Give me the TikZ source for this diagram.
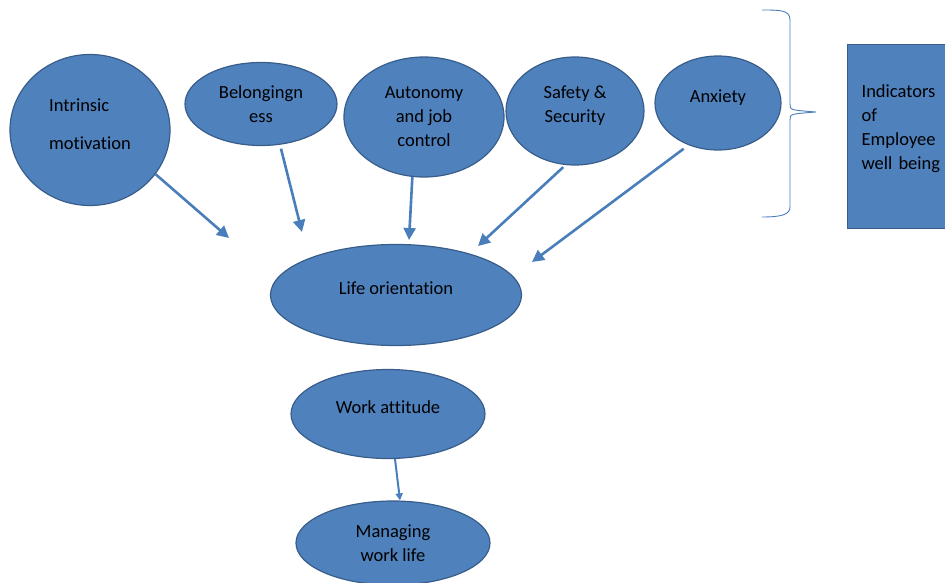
\documentclass[tikz,border=0pt]{standalone}
\usepackage{fontspec}
\setmainfont{Carlito}[Ligatures=NoCommon]
\usetikzlibrary{arrows.meta,shapes.geometric}
\definecolor{WellFill}{HTML}{4F81BD}
\definecolor{WellEdge}{HTML}{385D8A}
\definecolor{WellLink}{HTML}{4A7EBB}

\begin{document}
\begin{tikzpicture}[x=1pt,y=-1pt,
    bubble/.style={ellipse,draw=WellEdge,fill=WellFill,line width=1.2pt,
      inner sep=0pt,align=center,font=\fontsize{18.5}{24}\selectfont},
    link/.style={WellLink,line width=2.6pt,
      -{Triangle[length=12pt,width=12pt]}}]

        \useasboundingbox (0,0) rectangle (945,583);

        % indicators
        \node[bubble,align=left,minimum width=160,minimum height=151,
          text depth=12pt]
          (intr) at (90,130) {Intrinsic\\[14pt]motivation};
        \node[bubble,minimum width=152,minimum height=83]
          (belong) at (261,104) {Belongingn\\ess};
        \node[bubble,minimum width=160,minimum height=120]
          (auton) at (424,117) {Autonomy\\and job\\control};
        \node[bubble,minimum width=138,minimum height=108,text depth=13pt]
          (safety) at (575,111) {Safety \&\\Security};
        \node[bubble,minimum width=126,minimum height=94,text depth=14pt]
          (anx) at (718,103) {Anxiety};

        % outcomes
        \node[bubble,minimum width=251,minimum height=101,text depth=14pt]
          (life) at (396,295) {Life orientation};
        \node[bubble,minimum width=194,minimum height=89,text depth=14pt]
          (work) at (388,414) {Work attitude};
        \node[bubble,minimum width=194,minimum height=84]
          (manage) at (393,543) {Managing\\work life};

        \node[draw=WellEdge,fill=WellFill,line width=1.2pt,anchor=north west,
          minimum height=184,text width=100,inner xsep=14pt,align=left,
          text height=13pt,text depth=91pt,
          font=\fontsize{18.5}{24}\selectfont]
          (ind) at (847,44) {Indicators\\of\\Employee\\well being};

        % brace
        \draw[WellLink,line width=0.9pt]
          (762,10) .. controls (780,10) and (790,10) .. (790,20)
          -- (790,104) .. controls (790,110) .. (816,112)
          .. controls (790,114) .. (790,120)
          -- (790,207) .. controls (790,215) and (780,217) .. (762,217);

        \coordinate (intrEnd) at (229,238);
        \coordinate (belongEnd) at (302,232);
        \coordinate (autonEnd) at (409,240);
        \coordinate (safetyEnd) at (478,246);
        \coordinate (anxEnd) at (532,262);

        \draw[link] (intr.-34) -- (intrEnd);
        \draw[link,shorten <=4pt] (belong.-65) -- (belongEnd);
        \draw[link] (auton.-101) -- (autonEnd);
        \draw[link,shorten <=3pt] (safety.-100) -- (safetyEnd);
        \draw[link,shorten <=6pt] (anx.-125) -- (anxEnd);

        \draw[WellLink,line width=2pt,-{Triangle[length=7pt,width=7pt]}]
          ([xshift=7pt]work.south) -- ([xshift=7pt]manage.north);

      \end{tikzpicture}
\end{document}
